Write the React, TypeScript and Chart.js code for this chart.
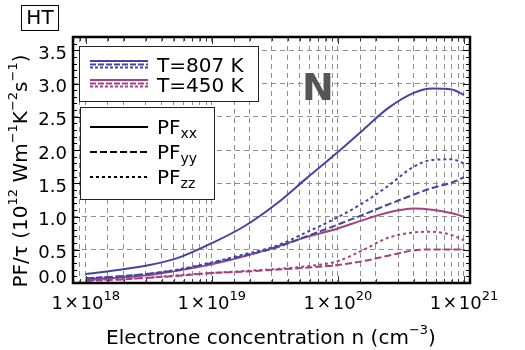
import React, { useEffect, useRef } from "react";
import { Chart, registerables } from "chart.js";

Chart.register(...registerables);

// ---- data ----
const concentration = [1e18, 1.8e18, 3.2e18, 5.6e18, 1e19, 1.8e19, 3.2e19, 5.6e19, 1e20, 1.6e20, 2.5e20, 4e20, 5.6e20, 8e20, 1e21];

const pfXX807 = [0.135, 0.195, 0.27, 0.39, 0.6, 0.85, 1.18, 1.57, 1.97, 2.31, 2.63, 2.86, 2.925, 2.91, 2.83];
const pfYY807 = [0.07, 0.1, 0.14, 0.2, 0.3, 0.41, 0.53, 0.7, 0.88, 1.03, 1.18, 1.33, 1.43, 1.51, 1.59];
const pfZZ807 = [0.07, 0.095, 0.14, 0.21, 0.31, 0.43, 0.555, 0.76, 0.99, 1.21, 1.46, 1.75, 1.85, 1.86, 1.8];

const pfXX450 = [0.05, 0.08, 0.12, 0.19, 0.28, 0.4, 0.54, 0.69, 0.82, 0.95, 1.06, 1.12, 1.1, 1.05, 1.0];
const pfYY450 = [0.03, 0.05, 0.08, 0.11, 0.15, 0.17, 0.2, 0.23, 0.27, 0.33, 0.41, 0.49, 0.505, 0.505, 0.505];
const pfZZ450 = [0.04, 0.06, 0.08, 0.12, 0.15, 0.18, 0.21, 0.25, 0.33, 0.5, 0.68, 0.76, 0.77, 0.72, 0.64];

const yTickValues = [0, 0.5, 1, 1.5, 2, 2.5, 3, 3.5];
const yTickLabels = ["0.0", "0.5", "1.0", "1.5", "2.0", "2.5", "3.0", "3.5"];
const xTickValues = [1e18, 1e19, 1e20, 1e21];
const xTickExponents = ["18", "19", "20", "21"];

const temperatureLabels = ["T=807 K", "T=450 K"];
const componentSubs = ["xx", "yy", "zz"];

const X_MIN = 7.93e17;
const X_MAX = 1.116e21;
const Y_MIN = 0;
const Y_MAX = 3.7;

const BLUE = "#4444a6";
const PURPLE = "#a3447e";
const FONT = "'DejaVu Sans', sans-serif";
const DASH_YY = [7, 3];
const DASH_ZZ = [3, 3];

type Part = { t: string; size: number; dy: number };

function partsWidth(ctx: CanvasRenderingContext2D, parts: Part[]) {
  let w = 0;
  for (const p of parts) {
    ctx.font = `${p.size}px ${FONT}`;
    w += ctx.measureText(p.t).width;
  }
  return w;
}

function drawParts(ctx: CanvasRenderingContext2D, parts: Part[], x: number, y: number) {
  let cx = x;
  ctx.textAlign = "left";
  ctx.textBaseline = "alphabetic";
  for (const p of parts) {
    ctx.font = `${p.size}px ${FONT}`;
    ctx.fillText(p.t, cx, y + p.dy);
    cx += ctx.measureText(p.t).width;
  }
  return cx - x;
}

const decorPlugin = {
  id: "decor",
  afterDraw(chart: any) {
    const ctx: CanvasRenderingContext2D = chart.ctx;
    const { left, right, top, bottom } = chart.chartArea;
    const xs = chart.scales.x;
    const ys = chart.scales.y;
    ctx.save();
    ctx.setLineDash([]);

    // inner tick marks on x (log ticks)
    ctx.strokeStyle = "#333";
    ctx.lineWidth = 1;
    xs.ticks.forEach((t: any) => {
      const v = t.value;
      if (v <= X_MIN * 1.01 || v >= X_MAX * 0.99) return;
      const lg = Math.log10(v);
      const major = Math.abs(lg - Math.round(lg)) < 1e-6;
      const len = major ? 7 : 4;
      const px = Math.round(xs.getPixelForValue(v)) + 0.5;
      ctx.beginPath();
      ctx.moveTo(px, bottom);
      ctx.lineTo(px, bottom - len);
      ctx.moveTo(px, top);
      ctx.lineTo(px, top + len);
      ctx.stroke();
    });
    // inner tick marks on y
    ctx.strokeStyle = "#000";
    for (let i = 1; i < 37; i++) {
      const py = Math.round(ys.getPixelForValue(i / 10)) + 0.5;
      const len = i % 5 === 0 ? 7 : 4;
      ctx.beginPath();
      ctx.moveTo(left, py);
      ctx.lineTo(left + len, py);
      ctx.moveTo(right, py);
      ctx.lineTo(right - len, py);
      ctx.stroke();
    }

    // frame
    ctx.lineWidth = 2.5;
    ctx.strokeStyle = "#000";
    ctx.strokeRect(left, top, right - left, bottom - top);

    ctx.fillStyle = "#000";
    // y tick labels
    ctx.font = `18px ${FONT}`;
    ctx.textAlign = "right";
    ctx.textBaseline = "middle";
    yTickValues.forEach((v, i) => {
      let py = ys.getPixelForValue(v) + 4;
      if (v === 0) py = bottom - 5;
      ctx.fillText(yTickLabels[i], 67, py);
    });

    // x tick labels 1x10^n
    xTickValues.forEach((v, i) => {
      const parts: Part[] = [
        { t: "1", size: 18, dy: 0 },
        { t: " × ", size: 12, dy: -1 },
        { t: "10", size: 18, dy: 0 },
        { t: xTickExponents[i], size: 13, dy: -9 },
      ];
      const w = partsWidth(ctx, parts);
      const px = xs.getPixelForValue(v);
      let cx = px - w / 2;
      ctx.textAlign = "left";
      ctx.textBaseline = "alphabetic";
      for (const p of parts) {
        ctx.font = `${p.size}px ${FONT}`;
        const pw = ctx.measureText(p.t).width;
        if (p.t === " × ") {
          ctx.font = `17px ${FONT}`;
          ctx.textAlign = "center";
          ctx.fillText("×", cx + pw / 2, 308);
          ctx.textAlign = "left";
        } else {
          ctx.fillText(p.t, cx, 309 + p.dy);
        }
        cx += pw;
      }
    });

    // x title
    drawParts(
      ctx,
      [
        { t: "Electrone concentration n (cm", size: 20, dy: 0 },
        { t: "−3", size: 13, dy: -10 },
        { t: ")", size: 20, dy: 0 },
      ],
      106,
      344
    );

    // y title (rotated)
    const yParts: Part[] = [
      { t: "PF/τ (10", size: 20, dy: 0 },
      { t: "12", size: 13, dy: -10 },
      { t: " Wm", size: 20, dy: 0 },
      { t: "−1", size: 13, dy: -10 },
      { t: "K", size: 20, dy: 0 },
      { t: "−2", size: 13, dy: -10 },
      { t: "s", size: 20, dy: 0 },
      { t: "−1", size: 13, dy: -10 },
      { t: ")", size: 20, dy: 0 },
    ];
    const yw = partsWidth(ctx, yParts);
    ctx.save();
    ctx.translate(27, 171);
    ctx.rotate(-Math.PI / 2);
    drawParts(ctx, yParts, -yw / 2, 0);
    ctx.restore();

    // HT box
    ctx.lineWidth = 1;
    ctx.strokeStyle = "#000";
    ctx.strokeRect(21.5, 5.5, 37, 25);
    ctx.font = `20px ${FONT}`;
    ctx.textAlign = "center";
    ctx.textBaseline = "middle";
    ctx.fillText("HT", 40, 19);

    // big N
    ctx.fillStyle = "#555";
    ctx.font = `bold 38px ${FONT}`;
    ctx.textAlign = "left";
    ctx.textBaseline = "alphabetic";
    ctx.fillText("N", 302, 100);

    // legend 1: temperatures
    const drawSample = (y: number, color: string, dash: number[], width: number) => {
      ctx.strokeStyle = color;
      ctx.lineWidth = width;
      ctx.setLineDash(dash);
      ctx.beginPath();
      ctx.moveTo(90, y);
      ctx.lineTo(148, y);
      ctx.stroke();
      ctx.setLineDash([]);
    };
    ctx.fillStyle = "#fff";
    ctx.fillRect(79, 46, 180, 56);
    ctx.strokeStyle = "#222";
    ctx.lineWidth = 1;
    ctx.strokeRect(79.5, 46.5, 179, 55);
    [BLUE, PURPLE].forEach((c, i) => {
      const base = 61 + i * 19;
      drawSample(base, c, [], 2);
      drawSample(base + 3.5, c, [6, 2], 2);
      drawSample(base + 6.5, c, [3, 2], 2);
      ctx.fillStyle = "#000";
      ctx.font = `20px ${FONT}`;
      ctx.textAlign = "left";
      ctx.textBaseline = "alphabetic";
      ctx.fillText(temperatureLabels[i], 157, 72 + i * 19.5);
    });

    // legend 2: components
    ctx.fillStyle = "#fff";
    ctx.fillRect(80, 107, 135, 93);
    ctx.strokeStyle = "#222";
    ctx.lineWidth = 1;
    ctx.strokeRect(80.5, 107.5, 134, 92);
    const dashes = [[], DASH_YY, DASH_ZZ];
    componentSubs.forEach((s, i) => {
      const ly = 127 + i * 25;
      drawSample(ly, "#000", dashes[i], 2);
      ctx.fillStyle = "#000";
      drawParts(
        ctx,
        [
          { t: "PF", size: 20, dy: 0 },
          { t: s, size: 14, dy: 4 },
        ],
        157,
        ly + 7
      );
    });

    ctx.restore();
  },
};

function makeDataset(label: string, values: number[], color: string, dash: number[]) {
  return {
    label,
    data: concentration.map((x, i) => ({ x, y: values[i] })),
    borderColor: color,
    backgroundColor: color,
    borderWidth: 2,
    borderDash: dash,
    pointRadius: 0,
    fill: false,
    cubicInterpolationMode: "monotone" as const,
  };
}

export default function App() {
  const canvasRef = useRef<HTMLCanvasElement | null>(null);

  useEffect(() => {
    if (!canvasRef.current) return;
    const gridColor = "#8e8e8e";
    const chart = new Chart(canvasRef.current, {
      type: "line",
      data: {
        datasets: [
          makeDataset("PFxx 807", pfXX807, BLUE, []),
          makeDataset("PFyy 807", pfYY807, BLUE, DASH_YY),
          makeDataset("PFzz 807", pfZZ807, BLUE, DASH_ZZ),
          makeDataset("PFxx 450", pfXX450, PURPLE, []),
          makeDataset("PFyy 450", pfYY450, PURPLE, DASH_YY),
          makeDataset("PFzz 450", pfZZ450, PURPLE, DASH_ZZ),
        ],
      },
      options: {
        animation: false,
        responsive: false,
        devicePixelRatio: 1,
        layout: { padding: { left: 0, top: 37, right: 55, bottom: 0 } },
        plugins: { legend: { display: false }, tooltip: { enabled: false } },
        scales: {
          x: {
            type: "logarithmic",
            min: X_MIN,
            max: X_MAX,
            ticks: { display: false },
            grid: { color: gridColor, lineWidth: 1, drawTicks: false },
            border: { display: false, dash: [5, 4] },
            afterFit: (s: any) => {
              s.height = 67;
            },
          },
          y: {
            type: "linear",
            min: Y_MIN,
            max: Y_MAX,
            ticks: { display: false, stepSize: 0.5, includeBounds: false },
            grid: { color: gridColor, lineWidth: 1, drawTicks: false },
            border: { display: false, dash: [5, 4] },
            afterFit: (s: any) => {
              s.width = 73;
            },
          },
        },
      },
      plugins: [decorPlugin],
    } as any);
    return () => chart.destroy();
  }, []);

  return (
    <div style={{ position: "absolute", left: 0, top: 0, width: 525, height: 350 }}>
      <canvas ref={canvasRef} width={525} height={350} style={{ display: "block" }} />
    </div>
  );
}
